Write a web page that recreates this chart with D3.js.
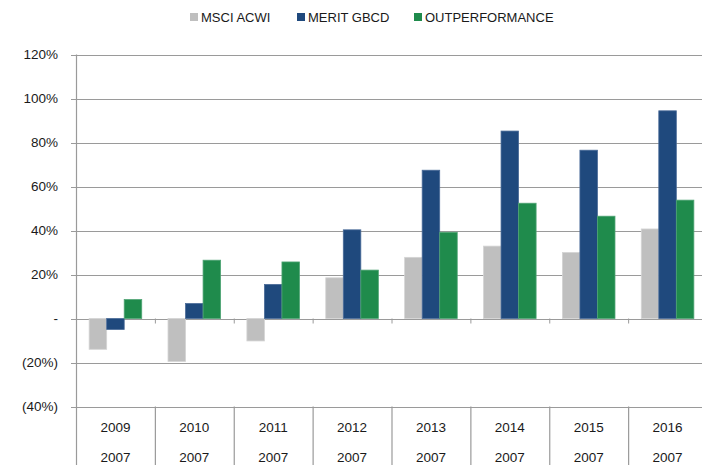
<!DOCTYPE html>
<html>
<head>
<meta charset="utf-8">
<script src="https://cdn.jsdelivr.net/npm/d3@7"></script>
<style>
  body { margin: 0; background: #fff; }
  svg { display: block; font-family: "Liberation Sans", Arial, sans-serif; }
</style>
</head>
<body>
<script>
// chart data
const years = ['2009', '2010', '2011', '2012', '2013', '2014', '2015', '2016'];
const baseYears = ['2007', '2007', '2007', '2007', '2007', '2007', '2007', '2007'];
const seriesNames = ['MSCI ACWI', 'MERIT GBCD', 'OUTPERFORMANCE'];
const msci = [-14, -19.5, -10.2, 18.5, 27.8, 32.9, 30, 40.7];
const merit = [-5, 6.8, 15.5, 40.3, 67.4, 85.2, 76.5, 94.4];
const outperf = [8.6, 26.5, 25.7, 22, 39.2, 52.4, 46.5, 53.8];
const yTicks = [-40, -20, 0, 20, 40, 60, 80, 100, 120];
const colors = ['#bfbfbf', '#1f497d', '#1f8b4c'];
const edgeColors = ['#d4d4d4', '#4a6b98', '#4fa474'];

const width = 702, height = 465;
const svg = d3.select('body').append('svg')
  .attr('width', width)
  .attr('height', height);

// plot area runs past the right edge like the original crop
const left = 76, right = 707;
const y = d3.scaleLinear().domain([-40, 120]).range([406.5, 54.5]);
const x0 = d3.scaleBand().domain(years).range([left, right]).padding(0);
const bw = x0.bandwidth();
const x1 = d3.scaleBand().domain(seriesNames).range([bw / 6, bw * 5 / 6]).padding(0);

const fmt = (v) => v === 0 ? '-' : v < 0 ? '(' + Math.abs(v) + '%)' : v + '%';
const fontSize = 13.5;

// gridlines
svg.append('g')
  .selectAll('line')
  .data(yTicks)
  .join('line')
  .attr('x1', left - 5)
  .attr('x2', right)
  .attr('y1', (d) => Math.round(y(d)) + 0.5)
  .attr('y2', (d) => Math.round(y(d)) + 0.5)
  .attr('stroke', '#9a9a9a')
  .attr('stroke-width', 1.2);

// y labels
svg.append('g')
  .selectAll('text')
  .data(yTicks)
  .join('text')
  .attr('x', 58)
  .attr('y', (d) => y(d))
  .attr('dy', '0.35em')
  .attr('text-anchor', 'end')
  .attr('font-size', fontSize)
  .attr('fill', '#1a1a1a')
  .text(fmt);

// y axis line
svg.append('line')
  .attr('x1', left + 0.5).attr('x2', left + 0.5)
  .attr('y1', y(120)).attr('y2', height)
  .attr('stroke', '#9a9a9a')
  .attr('stroke-width', 1.2);

// bars
const rows = years.map((yr, i) => ({ year: yr, values: [msci[i], merit[i], outperf[i]] }));
svg.append('g')
  .selectAll('g')
  .data(rows)
  .join('g')
  .attr('transform', (d) => 'translate(' + x0(d.year) + ',0)')
  .selectAll('rect')
  .data((d) => d.values.map((v, k) => ({ name: seriesNames[k], value: v, k })))
  .join('rect')
  .attr('x', (d) => x1(d.name))
  .attr('width', x1.bandwidth())
  .attr('y', (d) => y(Math.max(0, d.value)))
  .attr('height', (d) => Math.abs(y(d.value) - y(0)))
  .attr('fill', (d) => colors[d.k])
  .attr('stroke', (d) => edgeColors[d.k])
  .attr('stroke-width', 0.8);

// small ticks under the zero line at band edges
svg.append('g')
  .selectAll('line')
  .data(years.slice(1))
  .join('line')
  .attr('x1', (d) => x0(d) + 0.5)
  .attr('x2', (d) => x0(d) + 0.5)
  .attr('y1', y(0))
  .attr('y2', y(0) + 5)
  .attr('stroke', '#9a9a9a');

// category table below the plot
svg.append('g')
  .selectAll('line')
  .data(years.slice(1))
  .join('line')
  .attr('x1', (d) => x0(d) + 0.5)
  .attr('x2', (d) => x0(d) + 0.5)
  .attr('y1', y(-40))
  .attr('y2', height)
  .attr('stroke', '#9a9a9a')
  .attr('stroke-width', 1.2);

svg.append('g')
  .selectAll('text')
  .data(years)
  .join('text')
  .attr('x', (d) => x0(d) + bw / 2)
  .attr('y', 427.5)
  .attr('dy', '0.35em')
  .attr('text-anchor', 'middle')
  .attr('font-size', fontSize)
  .attr('fill', '#1a1a1a')
  .text((d) => d);

svg.append('g')
  .selectAll('text')
  .data(baseYears)
  .join('text')
  .attr('x', (d, i) => x0(years[i]) + bw / 2)
  .attr('y', 457.5)
  .attr('dy', '0.35em')
  .attr('text-anchor', 'middle')
  .attr('font-size', fontSize)
  .attr('fill', '#1a1a1a')
  .text((d) => d);

// legend
const legendX = [190, 297, 414];
const legend = svg.append('g')
  .selectAll('g')
  .data(seriesNames)
  .join('g')
  .attr('transform', (d, i) => 'translate(' + legendX[i] + ',13)');
legend.append('rect')
  .attr('width', 8)
  .attr('height', 8)
  .attr('fill', (d, i) => colors[i]);
legend.append('text')
  .attr('x', 11)
  .attr('y', 4)
  .attr('dy', '0.35em')
  .attr('font-size', 13)
  .attr('fill', '#1a1a1a')
  .text((d) => d);
</script>
</body>
</html>
